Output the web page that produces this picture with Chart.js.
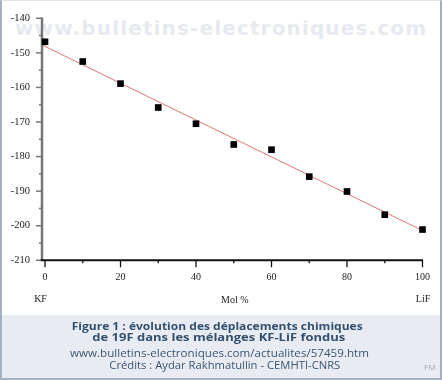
<!DOCTYPE html>
<html>
<head>
<meta charset="utf-8">
<script src="https://cdn.jsdelivr.net/npm/chart.js@4.4.1/dist/chart.umd.min.js"></script>
<style>
  html, body { margin: 0; padding: 0; background: #fff; }
  #wrap { position: relative; width: 442px; height: 380px; overflow: hidden; background: #fff; }
  #wm, #cap { position: absolute; left: 0; top: 0; }
  #c { position: absolute; left: 0; top: 0; }
  #capbg { position: absolute; left: 0; top: 315px; width: 442px; height: 65px; background: #e8ecf2; }
  #frame { position: absolute; left: 0; top: 0; width: 442px; height: 380px; box-sizing: border-box;
           border-left: 2px solid #a3b0c1; border-right: 2px solid #a3b0c1; border-bottom: 2px solid #a3b0c1;
           border-top: 1px solid #dfe4ea; pointer-events: none; }
</style>
</head>
<body>
<div id="wrap">
  <div id="capbg"></div>
  <svg id="wm" width="442" height="60">
    <text x="15" y="34.5" textLength="411" lengthAdjust="spacing" font-family="DejaVu Sans" font-weight="bold" font-size="20" fill="#e6eaf0">www.bulletins-electroniques.com</text>
  </svg>
  <canvas id="c" width="442" height="315"></canvas>
  <svg id="cap" width="442" height="380">
    <text x="71.7" y="329.5" textLength="291" lengthAdjust="spacingAndGlyphs" font-family="Open Sans" font-weight="bold" font-size="11" fill="#33506f">Figure 1 : évolution des déplacements chimiques</text>
    <text x="92.3" y="341" textLength="253" lengthAdjust="spacingAndGlyphs" font-family="Open Sans" font-weight="bold" font-size="11" fill="#33506f">de 19F dans les mélanges KF-LiF fondus</text>
    <text x="70" y="356.7" textLength="299" lengthAdjust="spacingAndGlyphs" font-family="Open Sans" font-size="10" fill="#3b5573">www.bulletins-electroniques.com/actualites/57459.htm</text>
    <text x="109.3" y="369.3" textLength="231" lengthAdjust="spacingAndGlyphs" font-family="Open Sans" font-size="10" fill="#3b5573">Crédits : Aydar Rakhmatullin - CEMHTI-CNRS</text>
    <text x="424" y="369.5" textLength="12" lengthAdjust="spacingAndGlyphs" font-family="Open Sans" font-size="7.5" fill="#a3abb6">FM</text>
  </svg>
  <div id="frame"></div>
</div>
<script>
// ---- data ----
const molPercent = [0, 10, 20, 30, 40, 50, 60, 70, 80, 90, 100];
const chemShift = [-146.8, -152.5, -158.9, -165.8, -170.5, -176.5, -178.0, -185.8, -190.1, -196.8, -201.1];
const fitX = [-0.8, 100];
const fitY = [-147.7, -201.4];
const xTickLabels = [0, 20, 40, 60, 80, 100];
const xMinorTicks = [10, 30, 50, 70, 90];
const yTickLabels = [-140, -150, -160, -170, -180, -190, -200, -210];
const yMinorTicks = [-145, -155, -165, -175, -185, -195, -205];
const endLabels = ['KF', 'LiF'];
const xAxisTitle = 'Mol %';

const serif = '"Liberation Serif", "Times New Roman", serif';

const axesPlugin = {
  id: 'axesDraw',
  beforeDatasetsDraw(chart) {
    const { ctx, chartArea: a, scales: { x, y } } = chart;
    const line = (x1, y1, x2, y2) => { ctx.beginPath(); ctx.moveTo(x1, y1); ctx.lineTo(x2, y2); ctx.stroke(); };
    ctx.save();
    // y axis
    ctx.strokeStyle = '#777';
    ctx.lineWidth = 2.5;
    line(a.left, a.top - 0.8, a.left, a.bottom);
    ctx.lineWidth = 1.5;
    yTickLabels.forEach(v => { const p = y.getPixelForValue(v); line(a.left - 6, p, a.left, p); });
    yMinorTicks.forEach(v => { const p = y.getPixelForValue(v); line(a.left - 3, p, a.left, p); });
    // x axis
    ctx.strokeStyle = '#111';
    ctx.lineWidth = 2;
    line(a.left - 1.3, a.bottom, a.right + 0.5, a.bottom);
    ctx.lineWidth = 1.3;
    xTickLabels.forEach(v => { const p = x.getPixelForValue(v); line(p, a.bottom, p, a.bottom + 7); });
    xMinorTicks.forEach(v => { const p = x.getPixelForValue(v); line(p, a.bottom, p, a.bottom + 3); });
    ctx.restore();
  },
  afterDraw(chart) {
    const { ctx, chartArea: a, scales: { x } } = chart;
    ctx.save();
    ctx.fillStyle = '#222';
    ctx.font = '10px ' + serif;
    ctx.textBaseline = 'alphabetic';
    ctx.textAlign = 'center';
    ctx.fillText(endLabels[0], x.getPixelForValue(0) - 4.5, 302);
    ctx.fillText(endLabels[1], x.getPixelForValue(100) + 0.5, 302);
    ctx.fillText(xAxisTitle, x.getPixelForValue(50) + 1, 302.5);
    ctx.restore();
  }
};

new Chart(document.getElementById('c'), {
  type: 'scatter',
  data: {
    datasets: [
      {
        data: molPercent.map((v, i) => ({ x: v, y: chemShift[i] })),
        pointStyle: 'rect',
        pointRadius: 4.7,
        pointHoverRadius: 4.7,
        backgroundColor: '#000',
        borderWidth: 0,
        clip: false
      },
      {
        data: fitX.map((v, i) => ({ x: v, y: fitY[i] })),
        showLine: true,
        pointRadius: 0,
        borderColor: '#e07575',
        borderWidth: 1,
        clip: false
      }
    ]
  },
  options: {
    responsive: false,
    animation: false,
    devicePixelRatio: 1,
    layout: { padding: { left: 0, right: 19.5, top: 15.5, bottom: 0 } },
    plugins: { legend: { display: false }, tooltip: { enabled: false } },
    scales: {
      x: {
        type: 'linear',
        min: -0.8,
        max: 100,
        afterBuildTicks: s => { s.ticks = xTickLabels.map(v => ({ value: v })); },
        afterFit: s => { s.height = 54.7; },
        grid: { display: false, drawTicks: false },
        border: { display: false },
        ticks: { font: { family: serif, size: 10 }, color: '#222', padding: 11, maxRotation: 0, autoSkip: false }
      },
      y: {
        type: 'linear',
        min: -210,
        max: -140,
        afterBuildTicks: s => { s.ticks = yTickLabels.map(v => ({ value: v })); },
        afterFit: s => { s.width = 42; },
        grid: { display: false, drawTicks: false },
        border: { display: false },
        ticks: { font: { family: serif, size: 10.5 }, color: '#222', padding: 12, autoSkip: false }
      }
    }
  },
  plugins: [axesPlugin]
});
</script>
</body>
</html>
